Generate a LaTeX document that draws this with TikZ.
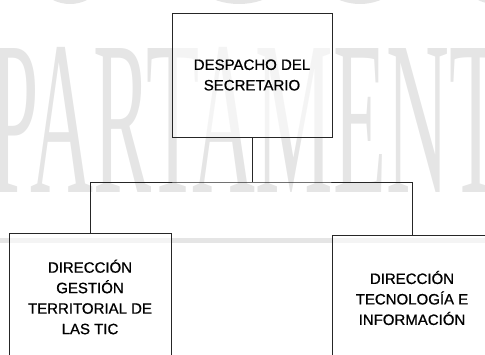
\documentclass[tikz,border=0pt]{standalone}
\usepackage{fontspec}
\setmainfont{Liberation Sans}
\newfontfamily\wmfont{Liberation Serif}
\newfontfamily\boxfont{Liberation Sans}[FakeBold=0.8]
\usepackage{graphicx}
\definecolor{wm}{gray}{0.9}
\begin{document}
\begin{tikzpicture}[x=1pt,y=-1pt,
  box/.style={draw=black!85, line width=0.8pt, fill=white, fill opacity=0.6, text opacity=1,
    align=center, font=\boxfont\fontsize{15}{20.5}\selectfont, inner sep=0pt},
  link/.style={draw=black!85, line width=0.8pt},
  wmarc/.style={draw=wm, line width=4pt}]
\useasboundingbox (0,0) rectangle (485,354);
\clip (0,0) rectangle (485,354);
% watermark
\node[anchor=south west, inner sep=0pt, text=wm] (wmark) at (-10,193)
  {\resizebox{512pt}{145pt}{\wmfont PARTAMENT}};
\fill[wm] (0,238) rectangle (485,243);
\draw[wmarc] (70,-38) ellipse [x radius=38, y radius=40];
\draw[wmarc] (239,-38) ellipse [x radius=53, y radius=40];
\draw[wmarc] (360,-38) ellipse [x radius=46, y radius=40];
\draw[wmarc] (495,-38) ellipse [x radius=38, y radius=40];
% boxes
\node[box, minimum width=160pt, minimum height=124pt] (top) at (252,75) {DESPACHO DEL\\SECRETARIO};
\node[box, minimum width=162pt, minimum height=128pt] (left) at (90,297) {DIRECCIÓN\\GESTIÓN\\TERRITORIAL DE\\LAS TIC};
\node[box, minimum width=160pt, minimum height=126pt] (right) at (412,298) {DIRECCIÓN\\TECNOLOGÍA E\\INFORMACIÓN};
% connectors
\coordinate (j) at (252,182);
\draw[link] (top.south) -- (j);
\draw[link] (left.north) |- (j) -| (right.north);
\end{tikzpicture}
\end{document}
